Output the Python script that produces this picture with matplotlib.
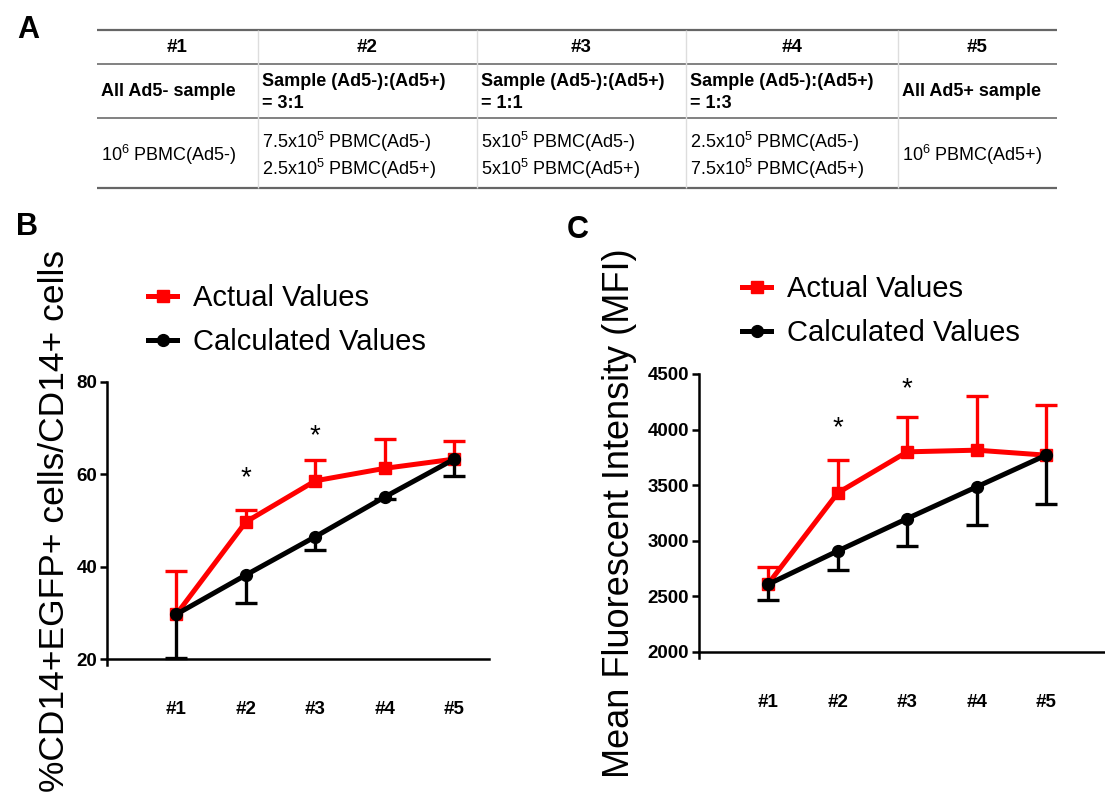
import matplotlib.pyplot as plt
from matplotlib.lines import Line2D
import numpy as np

plt.rcParams['font.family'] = ['Liberation Sans', 'DejaVu Sans']
plt.rcParams['mathtext.default'] = 'regular'

groups = ['#1', '#2', '#3', '#4', '#5']

# panel A table
ratio_text = ['All Ad5- sample', 'Sample (Ad5-):(Ad5+)\n= 3:1', 'Sample (Ad5-):(Ad5+)\n= 1:1',
              'Sample (Ad5-):(Ad5+)\n= 1:3', 'All Ad5+ sample']
cell_text = ['10$^6$ PBMC(Ad5-)', '7.5x10$^5$ PBMC(Ad5-)\n2.5x10$^5$ PBMC(Ad5+)',
             '5x10$^5$ PBMC(Ad5-)\n5x10$^5$ PBMC(Ad5+)',
             '2.5x10$^5$ PBMC(Ad5-)\n7.5x10$^5$ PBMC(Ad5+)', '10$^6$ PBMC(Ad5+)']

# panel B: %CD14+EGFP+ cells / CD14+ cells
b_actual = [29.7, 49.7, 58.6, 61.3, 63.3]
b_actual_err = [9.4, 2.6, 4.5, 6.4, 3.9]
b_calc = [29.7, 38.2, 46.5, 55.1, 63.3]
b_calc_err = [9.5, 6.1, 2.8, 0.5, 3.7]
b_stars = [(1, 59.2), (2, 68.3)]

# panel C: MFI
c_actual = [2616, 3431, 3800, 3815, 3770]
c_actual_err = [150, 295, 315, 486, 455]
c_calc = [2610, 2909, 3200, 3485, 3770]
c_calc_err = [140, 175, 250, 340, 435]
c_stars = [(1, 4010), (2, 4362)]

W, H = 1105, 792
fig = plt.figure(figsize=(W / 100, H / 100), dpi=100)

# ---- table, drawn in pixel space ----
axt = fig.add_axes([0, 0, 1, 1])
axt.set_xlim(0, W)
axt.set_ylim(H, 0)
axt.axis('off')

col_x = [97, 258, 477, 686, 898, 1057]
axt.hlines([30, 188], col_x[0], col_x[-1], color='#666666', lw=1.6)
axt.hlines([64, 118], col_x[0], col_x[-1], color='#777777', lw=1.3)
axt.vlines(col_x[1:-1], 30, 188, color='#dddddd', lw=1.0)

for i in range(5):
    cx = (col_x[i] + col_x[i + 1]) / 2
    axt.text(cx, 47, groups[i], ha='center', va='center', fontsize=13.5, fontweight='bold')
    lines = ratio_text[i].split('\n')
    ys = [92] if len(lines) == 1 else [81, 104]
    for ln, y in zip(lines, ys):
        axt.text(col_x[i] + 4, y, ln, ha='left', va='center', fontsize=13, fontweight='bold')
    lines = cell_text[i].split('\n')
    ys = [155] if len(lines) == 1 else [142, 169]
    for ln, y in zip(lines, ys):
        axt.text(col_x[i] + 4, y, ln, ha='left', va='center', fontsize=13)

fig.text(28 / W, 1 - 30 / H, 'A', ha='center', va='center', fontsize=22, fontweight='bold')
fig.text(27 / W, 1 - 227 / H, 'B', ha='center', va='center', fontsize=22, fontweight='bold')
fig.text(578 / W, 1 - 230 / H, 'C', ha='center', va='center', fontsize=22, fontweight='bold')


def panel(ax, act, act_err, calc, calc_err, ylim, yticks, stars, ylabel, ylabel_size, labelpad):
    x = np.arange(len(groups))
    z = np.zeros(len(groups))
    # red bars point up, black bars point down; hide the caps on the empty side
    eb = ax.errorbar(x, act, yerr=[z, act_err], color='red', lw=3.6, marker='s', ms=8.5,
                     capsize=8, capthick=2.4, elinewidth=2.4, zorder=3, clip_on=False)
    eb[1][0].set_visible(False)
    eb = ax.errorbar(x, calc, yerr=[calc_err, z], color='black', lw=3.6, marker='o', ms=8.5,
                     capsize=8, capthick=2.4, elinewidth=2.4, zorder=4, clip_on=False)
    eb[1][1].set_visible(False)
    for sx, sy in stars:
        ax.text(sx, sy, '*', ha='center', va='center', fontsize=20)
    ax.set_ylim(*ylim)
    ax.set_yticks(yticks)
    ax.set_xticks(x, groups)
    for s in ['top', 'right']:
        ax.spines[s].set_visible(False)
    for s in ['left', 'bottom']:
        ax.spines[s].set_linewidth(1.8)
    span = ylim[1] - ylim[0]
    ax.spines['left'].set_bounds(ylim[0] - 0.02 * span, ylim[1])
    ax.tick_params(axis='y', length=5, width=1.8, labelsize=13.5, pad=2)
    ax.tick_params(axis='x', length=0, labelsize=13.5, pad=30)
    for lab in ax.get_xticklabels() + ax.get_yticklabels():
        lab.set_fontweight('bold')
    ax.set_ylabel(ylabel, fontsize=ylabel_size, labelpad=labelpad)
    ax.patch.set_alpha(0)


axb = fig.add_axes([107 / W, 1 - 659 / H, (489 - 107) / W, (659 - 382) / H])
axb.set_xlim(-1.0, 4.5)
panel(axb, b_actual, b_actual_err, b_calc, b_calc_err, (20, 80), [20, 40, 60, 80],
      b_stars, '%CD14+EGFP+ cells/CD14+ cells', 25.5, 4)

axc = fig.add_axes([699 / W, 1 - 652 / H, (W - 699) / W, (652 - 374) / H])
axc.set_xlim(-1.0, 4.85)
panel(axc, c_actual, c_actual_err, c_calc, c_calc_err, (2000, 4500),
      [2000, 2500, 3000, 3500, 4000, 4500], c_stars, 'Mean Fluorescent Intensity (MFI)', 26, 8)

handles = [Line2D([], [], color='red', lw=3.6, marker='s', ms=8.5),
           Line2D([], [], color='black', lw=3.6, marker='o', ms=8.5)]
labels = ['Actual Values', 'Calculated Values']
for ax, lx, ly in [(axb, 148, 284), (axc, 742, 275)]:
    ax.legend(handles, labels, loc='upper left', bbox_to_anchor=(lx / W, 1 - ly / H),
              bbox_transform=fig.transFigure, frameon=False, fontsize=21,
              handlelength=1.0, handletextpad=0.55, labelspacing=0.55,
              borderpad=0, borderaxespad=0)

fig.savefig('out.png', dpi=100)
